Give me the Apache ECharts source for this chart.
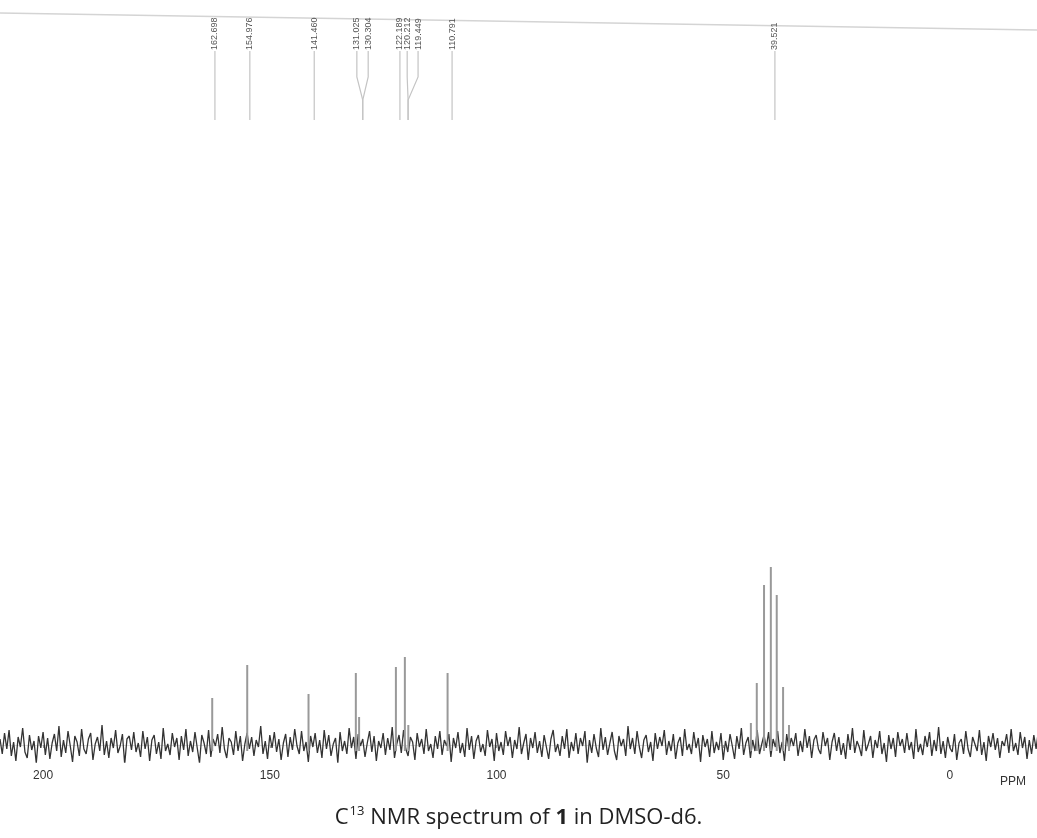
<!DOCTYPE html>
<html>
<head>
<meta charset="utf-8">
<style>
  html, body { margin: 0; padding: 0; background: #fff; }
  #chart { width: 1037px; height: 838px; }
</style>
<script src="https://cdn.jsdelivr.net/npm/echarts@6/dist/echarts.min.js"></script>
</head>
<body>
<div id="chart"></div>
<script>
// axis ticks shown under the trace
const tickValues = [200, 150, 100, 50, 0];

// baseline noise, read as pixel offsets every 0.5 ppm starting at 209.5 ppm
const noiseStart = 209.5;
const noiseStep = 0.5;
const noise = [
  6,-9,12,-4,15,-11,3,-16,8,-2,17,-7,-13,10,-5,4,-18,9,-3,13,
  -10,7,-14,2,11,-6,19,-12,5,-8,14,-1,-17,9,3,-11,16,-4,-9,6,
  12,-15,1,8,-6,20,-10,4,-13,7,-3,15,-8,-1,11,-19,6,9,-5,13,
  -7,2,-12,14,-4,8,-16,5,10,-9,3,-14,17,-6,1,-10,12,-2,7,-15,
  9,-5,16,-11,4,-7,13,-3,-18,10,2,-9,15,-12,6,-1,11,-8,18,-4,
  -13,7,3,-10,14,-6,9,-16,1,12,-4,8,-11,5,-2,19,-9,4,-14,10,
  -3,13,-7,6,-15,2,11,-12,8,-5,16,-1,-9,14,-6,3,-17,9,-2,12,
  -8,5,-13,15,-4,10,-11,1,7,-18,13,-6,4,-9,17,-3,8,-14,11,-1,
  6,-12,2,14,-7,9,-16,4,-3,12,-10,7,-5,18,-13,1,10,-8,15,-4,
  -11,8,3,-15,12,-2,6,-9,16,-6,1,-13,9,-4,14,-10,5,-1,11,-17,
  7,-3,13,-8,2,-12,17,-5,9,-14,4,10,-7,1,-11,15,-2,6,-16,12,
  -6,3,-10,14,-1,8,-13,5,-4,18,-9,2,11,-15,7,-3,13,-8,4,-12,
  10,-2,-14,6,15,-7,1,-11,9,-4,16,-13,3,-6,12,-9,7,-1,14,-18,
  5,-8,11,-3,-12,17,-5,8,-10,2,13,-6,-15,9,-1,6,-11,19,-4,7,
  -9,14,-2,-13,5,10,-7,3,-16,12,-4,8,-1,15,-10,4,-6,11,-14,2,
  8,-11,16,-5,1,-9,13,-3,7,-17,10,-2,6,-12,14,-8,3,-5,12,-15,
  4,-7,11,-1,-14,9,-4,17,-10,2,8,-13,5,-6,15,-9,1,10,-3,13,
  -12,6,-2,14,-8,3,-16,11,-5,7,-1,12,-11,4,-7,16,-3,9,-13,5,
  10,-4,-9,13,-1,7,-15,3,12,-6,8,-10,2,-14,11,-5,17,-8,4,-2,
  -11,15,-6,1,9,-13,5,-3,14,-9,2,-17,10,-4,7,-12,13,-1,6,-8,
  12,-5,3,-14,16,-7,1,-10,9,-2,13,-11,5,-6,18,-9,4,-13,8,-3,
  -7,11,-15,2,6,-9,14,-4,-12,8,1,-6,15,-10,3,-16,9,-2,12,-5,
  7,-13,4,-1,11,-8,16,-6,2,-10,13,-3,8,-14,5,-9,10,-4,14,-7
];

// sample peaks (ppm) and heights
const peakPpm = [162.698, 154.976, 141.460, 131.025, 130.304, 122.189, 120.212, 119.449, 110.791];
const peakHeight = [47, 80, 51, 72, 28, 78, 88, 20, 72];

// DMSO-d6 septet
const septetPpm = [43.9, 42.6, 41.0, 39.5, 38.2, 36.8, 35.5];
const septetHeight = [22, 62, 160, 178, 150, 58, 20];

// peak picking labels at the top
const labelText = ['162.698', '154.976', '141.460', '131.025', '130.304', '122.189', '120.212', '119.449', '110.791', '39.521'];
const labelAt = [162.1, 154.4, 140.2, 130.8, 128.3, 121.3, 119.7, 117.3, 109.8, 38.6];
const leaderTo = [162.1, 154.4, 140.2, 129.5, 129.5, 121.3, 119.5, 119.5, 109.8, 38.6];

const noiseData = noise.map((v, i) => [noiseStart - i * noiseStep, v]);
const stickData = peakPpm.map((p, i) => [p, peakHeight[i]])
  .concat(septetPpm.map((p, i) => [p, septetHeight[i]]));
const labelData = labelAt.map((p, i) => [p, leaderTo[i]]);

const chart = echarts.init(document.getElementById('chart'));

const option = {
  backgroundColor: '#fff',
  animation: false,
  title: {
    left: 'center',
    top: 798,
    text: '{n|C}{sup|13}{n| NMR spectrum of }{b|1}{n| in DMSO-d6.}',
    textStyle: {
      fontWeight: 'normal',
      rich: {
        n: { fontFamily: 'Open Sans', fontSize: 22, lineHeight: 30, fontWeight: 'normal', color: '#222' },
        b: { fontFamily: 'Open Sans', fontSize: 22, lineHeight: 30, fontWeight: 'bold', color: '#222' },
        sup: { fontFamily: 'Open Sans', fontSize: 13, lineHeight: 14, fontWeight: 'normal', color: '#222', verticalAlign: 'top', padding: [2, 0, 0, 1] }
      }
    }
  },
  grid: { left: 0, right: 0, top: 0, bottom: 76 },
  xAxis: {
    type: 'value',
    inverse: true,
    min: -19.2,
    max: 209.5,
    splitLine: { show: false },
    axisLine: { show: true, lineStyle: { color: '#ddd', width: 1 } },
    axisTick: { show: true, customValues: tickValues, length: 3, lineStyle: { color: '#999' } },
    axisLabel: {
      customValues: tickValues,
      margin: 8,
      fontFamily: 'Liberation Sans',
      fontSize: 12,
      color: '#333'
    }
  },
  yAxis: {
    type: 'value',
    min: -17,
    max: 745,
    show: false
  },
  graphic: [
    { type: 'line', shape: { x1: 0, y1: 13, x2: 1037, y2: 30 }, style: { stroke: '#d4d4d4', lineWidth: 1.5 } },
    { type: 'text', x: 1000, y: 776, style: { text: 'PPM', fontFamily: 'Liberation Sans', fontSize: 12, fill: '#333' } }
  ],
  series: [
    {
      type: 'line',
      data: noiseData,
      showSymbol: false,
      lineStyle: { color: '#333', width: 1.3 },
      z: 2
    },
    {
      type: 'custom',
      data: stickData,
      z: 3,
      renderItem: (params, api) => {
        const base = api.coord([api.value(0), 0]);
        const top = api.coord([api.value(0), api.value(1)]);
        return {
          type: 'line',
          shape: { x1: base[0], y1: base[1] + 6, x2: top[0], y2: top[1] },
          style: { stroke: '#999', lineWidth: 2 }
        };
      }
    },
    {
      type: 'custom',
      data: labelData,
      z: 4,
      renderItem: (params, api) => {
        const lx = api.coord([api.value(0), 0])[0];
        const tx = api.coord([api.value(1), 0])[0];
        const yText = api.coord([0, 694])[1];
        const yBend = api.coord([0, 668])[1];
        const yJoin = api.coord([0, 645])[1];
        const yEnd = api.coord([0, 625])[1];
        return {
          type: 'group',
          children: [
            {
              type: 'text',
              x: lx,
              y: yText - 1,
              rotation: Math.PI / 2,
              style: {
                text: labelText[params.dataIndex],
                fontFamily: 'Liberation Sans',
                fontSize: 9,
                fill: '#555',
                align: 'left',
                verticalAlign: 'middle'
              }
            },
            {
              type: 'polyline',
              shape: { points: [[lx, yText], [lx, yBend], [tx, yJoin], [tx, yEnd]] },
              style: { stroke: '#c4c4c4', lineWidth: 1.2, fill: null }
            }
          ]
        };
      }
    }
  ]
};

chart.setOption(option);
window.addEventListener('resize', () => chart.resize());
</script>
</body>
</html>
